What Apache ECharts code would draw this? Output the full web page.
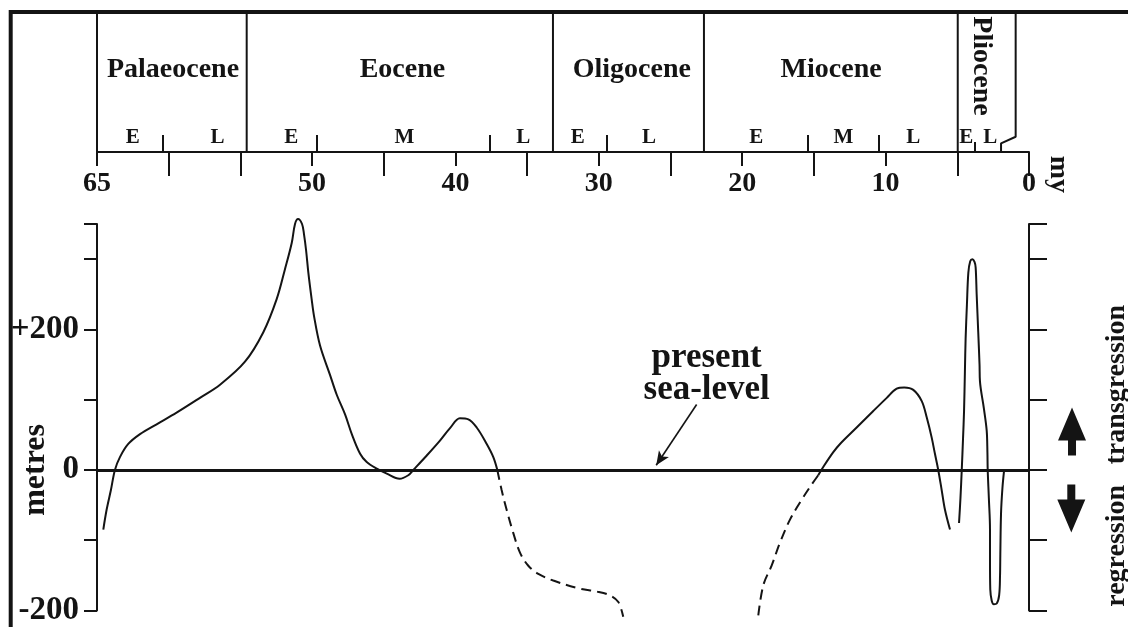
<!DOCTYPE html>
<html><head><meta charset="utf-8">
<script src="https://cdn.jsdelivr.net/npm/echarts@6/dist/echarts.min.js"></script>
<style>html,body{margin:0;padding:0;background:#fff;overflow:hidden}#c{width:1128px;height:627px}</style>
</head><body><div id="c"></div>
<script>
// ---------- data ----------
const ageTicksLong = [60, 55, 45, 35, 25, 15, 5, 0];
const ageTicksLabelled = [65, 50, 40, 30, 20, 10];
const ageLabels = [65, 50, 40, 30, 20, 10, 0];
const epochNames = ['Palaeocene', 'Eocene', 'Oligocene', 'Miocene'];
const epochNameAt = [59.7, 43.7, 27.7, 13.8];
const epochBounds = [65, 54.56, 33.2, 22.67, 4.97];
const plioceneTopEnd = 0.93;   // Pliocene box right edge (upper part, widened for label)
const plioceneEnd = 1.95;      // Pliocene / Pleistocene boundary at axis
const subEpochTicks = [60.38, 49.68, 37.64, 29.45, 15.46, 10.51];
const plioSubTicks = [3.75];
const subEpochNames = ['E', 'L', 'E', 'M', 'L', 'E', 'L', 'E', 'M', 'L', 'E', 'L'];
const subEpochAt = [62.5, 56.6, 51.45, 43.56, 35.27, 31.47, 26.5, 19.02, 12.95, 8.07, 4.38, 2.7];
const yTicks = [-200, -100, 0, 100, 200, 300, 350];
const yLabels = [-200, 0, 200];

// sea-level curve [age (my), metres]
const curveSolid1 = [[64.56,-84.8],[64.33,-56.7],[64.03,-28.6],[63.75,0],[63.4,18.3],[62.82,37],[62.0,51],[60.84,65],[59.45,81.5],[57.82,102.6],[56.42,121.3],[54.68,154],[53.4,196],[52.47,243],[51.9,285],[51.42,323],[51.19,350],[50.98,357],[50.7,350],[50.56,335],[50.42,313],[50.26,280.7],[50.03,243],[49.87,219.7],[49.45,177.5],[48.75,135.3],[48.28,107],[47.7,79],[47.23,51],[46.65,23],[46.19,11.2],[45.49,1.8],[44.79,-5.2],[43.9,-12.5],[43.29,-7.5],[42.94,0],[42.0,20.6],[41.08,41.7],[40.38,59.5],[39.69,73.5],[39.1,72],[38.52,60.4],[37.82,37],[37.36,18.3],[37.08,0]];
const curveDashed1 = [[37.08,0],[36.78,-28.6],[36.43,-56.7],[35.97,-89.5],[35.5,-117.6],[34.92,-136.3],[34.22,-148],[33.18,-157.4],[31.3,-169],[30.15,-173],[29.22,-178.5],[28.64,-188],[28.3,-209]];
const curveDashed2 = [[18.88,-207],[18.53,-164],[17.95,-136],[17.37,-103.6],[16.67,-70.7],[15.86,-42.6],[15.2,-22],[14.7,-7.5]];
const curveSolid2 = [[14.7,-7.5],[14.35,4.2],[13.65,25.3],[13.18,37],[12.02,60.4],[10.86,83.9],[9.92,102.6],[9.23,115.7],[8.7,117.5],[8.07,114],[7.48,98],[7.13,74.5],[6.79,46.4],[6.56,23],[6.33,0],[6.09,-28.6],[5.86,-56.7],[5.51,-84.8]];
const curveSolid3 = [[4.88,-75.5],[4.78,-40],[4.69,0],[4.6,45],[4.53,84],[4.47,140],[4.42,187],[4.33,235],[4.23,280.7],[4.1,297],[3.95,300],[3.8,296],[3.72,288],[3.65,250],[3.54,196],[3.45,150],[3.42,126],[3.15,88],[2.95,56],[2.9,25],[2.88,0],[2.8,-40],[2.72,-84.8],[2.72,-130],[2.7,-170],[2.6,-186],[2.45,-191],[2.25,-190],[2.08,-178],[2.02,-150],[2.0,-120],[1.95,-61.4],[1.85,-25],[1.74,-1.4]];

const arrowFrom = [23.18, 93.2];
const arrowTo = [26.0, 6.6];

// ---------- chart ----------
const FONT = '"Liberation Serif","Times New Roman",serif';
const INK = '#141414';
const txt = (size, extra) => Object.assign({fontFamily: FONT, fontWeight: 'bold', fontSize: size, color: INK}, extra || {});
const tickStyle = {color: INK, width: 2};

const xBase = {type: 'value', min: 0, max: 65, inverse: true, gridIndex: 1, position: 'bottom', offset: 0,
  splitLine: {show: false}, axisLabel: {show: false}, axisTick: {show: false}, axisLine: {show: false}};

const curveStyle = {color: INK, width: 2};
function curve(data, dashed, extra) {
  return Object.assign({
    type: 'line', xAxisIndex: 0, yAxisIndex: 0, data: data, symbol: 'none', smooth: 0.35,
    clip: false, silent: true,
    lineStyle: Object.assign({}, curveStyle, dashed ? {type: [10, 6]} : {type: 'solid'})
  }, extra || {});
}
function textScatter(xi, yi, items, labelExtra) {
  return {
    type: 'scatter', xAxisIndex: xi, yAxisIndex: yi, clip: false, silent: true,
    symbolSize: 1, itemStyle: {color: 'rgba(0,0,0,0)', opacity: 1},
    data: items,
    label: Object.assign({show: true, position: 'inside', formatter: '{b}'}, txt(28), labelExtra || {})
  };
}

const series = [
  curve(curveSolid1, false, {
    markLine: {
      silent: true, symbol: ['none', 'none'], label: {show: false},
      lineStyle: {color: INK, width: 3, type: 'solid'},
      data: [
        {yAxis: 0},
        [{coord: arrowFrom, lineStyle: {width: 1.6, color: INK, type: 'solid'}},
         {coord: arrowTo, symbol: 'arrow', symbolSize: [9, 14]}]
      ]
    }
  }),
  curve(curveDashed1, true),
  curve(curveDashed2, true),
  curve(curveSolid2, false),
  curve(curveSolid3, false)
];

epochBounds.forEach(a => series.push({
  type: 'line', xAxisIndex: 1, yAxisIndex: 2, data: [[a, 0], [a, 1]], symbol: 'none',
  silent: true, clip: false, lineStyle: {color: INK, width: 2}
}));
series.push({
  type: 'line', xAxisIndex: 1, yAxisIndex: 2, symbol: 'none', silent: true, clip: false,
  data: [[plioceneTopEnd, 1], [plioceneTopEnd, 0.109], [plioceneEnd, 0.062], [plioceneEnd, 0]],
  lineStyle: {color: INK, width: 2}
});

series.push(textScatter(1, 2, epochNames.map((n, i) => ({name: n, value: [epochNameAt[i], 0.59]}))));
series.push(textScatter(1, 2, subEpochNames.map((n, i) => ({name: n, value: [subEpochAt[i], 0.1]})), {fontSize: 21}));
series.push(textScatter(1, 2, [{name: 'Pliocene', value: [3.3, 0.614]}], {rotate: -90}));
series.push(textScatter(1, 2, [{name: 'my', value: [-2.07, -0.16]}], {rotate: -90}));

series.push(textScatter(0, 0, [{name: 'present\nsea-level', value: [22.48, 137]}], {fontSize: 35, lineHeight: 32, align: 'center'}));
series.push(textScatter(0, 0, [{name: 'metres', value: [69.3, 0]}], {fontSize: 32, rotate: 90}));
series.push(textScatter(0, 0, [
  {name: 'transgression', value: [-6.1, 121.3]},
  {name: 'regression', value: [-6.1, -108]}
], {fontSize: 28, rotate: 90}));

series.push({
  type: 'scatter', xAxisIndex: 0, yAxisIndex: 0, clip: false, silent: true,
  symbol: 'path://M14 0 L28 33 L18 33 L18 48 L10 48 L10 33 L0 33 Z',
  symbolSize: [28, 48], itemStyle: {color: INK, opacity: 1},
  data: [{value: [-3.0, 54.8], symbolRotate: 0}, {value: [-2.95, -54.8], symbolRotate: 180}]
});

const option = {
  animation: false,
  backgroundColor: '#fff',
  grid: [
    {left: 97, width: 932, top: 224, height: 391.3},
    {left: 97, width: 932, top: 12, height: 140}
  ],
  xAxis: [
    {type: 'value', min: 0, max: 65, inverse: true, gridIndex: 0, show: false},
    Object.assign({}, xBase, {
      axisLine: {show: true, onZero: false, lineStyle: {color: INK, width: 2}},
      axisTick: {show: true, customValues: ageTicksLong, length: 24, lineStyle: tickStyle}
    }),
    Object.assign({}, xBase, {
      axisTick: {show: true, customValues: ageTicksLabelled, length: 14, lineStyle: tickStyle},
      axisLabel: Object.assign({show: true, customValues: ageLabels, margin: 18}, txt(28))
    }),
    Object.assign({}, xBase, {
      axisTick: {show: true, inside: true, customValues: subEpochTicks, length: 17, lineStyle: tickStyle}
    }),
    Object.assign({}, xBase, {
      axisTick: {show: true, inside: true, customValues: plioSubTicks, length: 10, lineStyle: tickStyle}
    })
  ],
  yAxis: [
    {type: 'value', gridIndex: 0, min: -200, max: 350, position: 'left',
     axisLine: {show: true, onZero: false, lineStyle: {color: INK, width: 2}},
     axisTick: {show: true, customValues: yTicks, length: 13, lineStyle: tickStyle},
     axisLabel: Object.assign({show: true, customValues: yLabels, margin: 18,
       formatter: v => (v > 0 ? '+' + v : String(v))}, txt(33)),
     splitLine: {show: false}},
    {type: 'value', gridIndex: 0, min: -200, max: 350, position: 'right',
     axisLine: {show: true, onZero: false, lineStyle: {color: INK, width: 2}},
     axisTick: {show: true, customValues: yTicks, length: 18, lineStyle: tickStyle},
     axisLabel: {show: false}, splitLine: {show: false}},
    {type: 'value', gridIndex: 1, min: 0, max: 1, show: false}
  ],
  graphic: [{
    type: 'polyline', z: 100, silent: true,
    shape: {points: [[10.7, 627], [10.7, 12], [1128, 12]]},
    style: {stroke: INK, lineWidth: 4, fill: 'none'}
  }],
  series: series
};

const chart = echarts.init(document.getElementById('c'));
chart.setOption(option);
</script></body></html>
